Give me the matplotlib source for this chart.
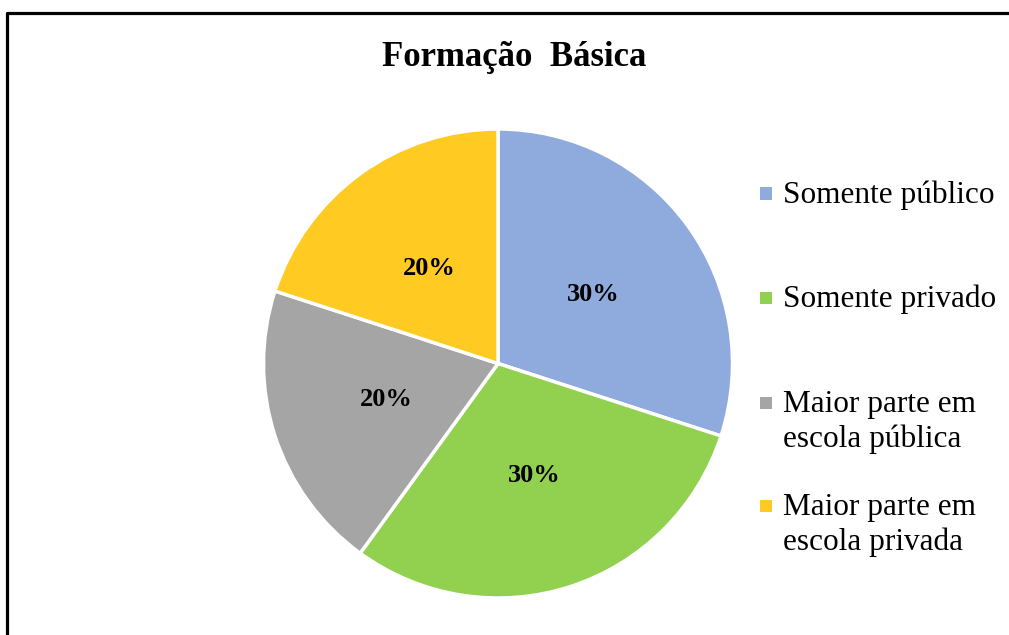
import matplotlib
matplotlib.use("Agg")
import matplotlib.pyplot as plt
from matplotlib.lines import Line2D
from matplotlib.patches import Rectangle

title = "Formação  Básica"
categories = ["Somente público", "Somente privado",
              "Maior parte em\nescola pública", "Maior parte em\nescola privada"]
values = [30, 30, 20, 20]
colors = ["#8FAADC", "#92D050", "#A5A5A5", "#FFCA22"]

W, H = 1009, 635
fig = plt.figure(figsize=(W / 100, H / 100), dpi=100)
fig.patch.set_facecolor("white")
serif = ["Liberation Serif", "DejaVu Serif"]

def fx(px):
    return px / W

def fy(py):
    return 1 - py / H

# Outer frame (only top and left visible)
fig.add_artist(Line2D([fx(7), fx(7), fx(W + 5)], [fy(H + 5), fy(13), fy(13)],
                      transform=fig.transFigure, color="black", lw=2.3))

fig.text(fx(514), fy(58), title, ha="center", va="center",
         fontsize=25, fontweight="bold", family=serif)

# Pie axes
cx, cy, r = 498, 363.5, 234.5
ax = fig.add_axes([fx(cx - r), fy(cy + r), (2 * r) / W, (2 * r) / H])
wedges, texts, autotexts = ax.pie(
    values, colors=colors, startangle=90, counterclock=False,
    autopct=lambda p: f"{p:.0f}%", pctdistance=0.5,
    wedgeprops=dict(edgecolor="white", linewidth=2.5),
    textprops=dict(fontsize=19, fontweight="bold", family=serif, color="black"))
ax.set_xlim(-1.0, 1.0)
ax.set_ylim(-1.0, 1.0)
ax.set_aspect("auto")
ax.axis("off")

# Legend (manual placement)
baselines = [203, 307, 412, 515]
line_step = 35
sq = 12
for lab, col, base in zip(categories, colors, baselines):
    ccy = base - 9.5
    fig.add_artist(Rectangle((fx(760), fy(ccy + sq / 2)), sq / W, sq / H,
                             transform=fig.transFigure, facecolor=col,
                             edgecolor="none"))
    for i, line in enumerate(lab.split("\n")):
        fig.text(fx(783), fy(base + i * line_step), line, ha="left",
                 va="baseline", fontsize=22.5, family=serif, color="black")

fig.savefig("out.png", dpi=100)
